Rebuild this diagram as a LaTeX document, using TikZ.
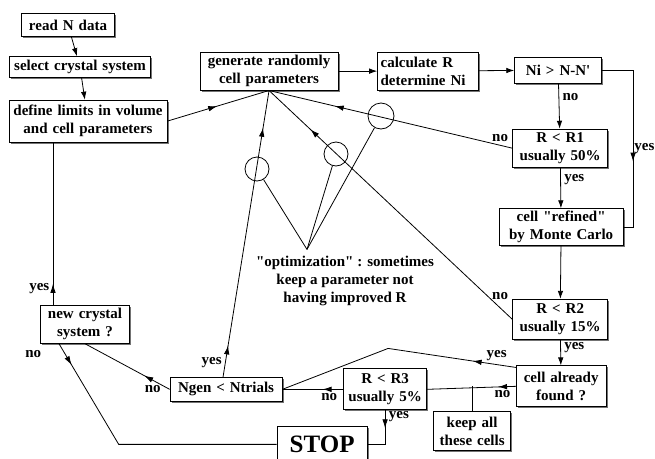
\documentclass[tikz,border=0pt]{standalone}
\usepackage{fontspec}
\setmainfont{Liberation Serif}
\usepackage{tikz}
\usetikzlibrary{positioning, arrows.meta, shadows, decorations.markings}

\tikzset{
	flowbox/.style={draw, rectangle, fill=white, align=center, inner xsep=3pt, inner ysep=2pt, drop shadow={shadow xshift=1.6pt, shadow yshift=-1.6pt, fill=black!55, opacity=1}},
	midarrow/.style={postaction={decorate}, decoration={markings, mark=at position #1 with {\arrow{Latex[length=9pt, width=5.5pt]}}}},
	midarrow/.default=0.5
}

\begin{document}
\begin{tikzpicture}[x=1pt, y=1pt, node distance=1cm, line width=0.8pt, >={Latex[length=8pt, width=5.5pt]}, font=\bfseries\fontsize{15}{18}\selectfont]
	\useasboundingbox (0,0) rectangle (655,-458);

	\node[flowbox, text width=87pt, minimum height=23pt] (read) at (68,-25) {read N data};
	
	\node[flowbox, below of=read, text width=135pt, minimum height=21pt, xshift=12pt, yshift=-13.6pt] (select) {select crystal system};
	
	\node[flowbox, below of=select, text width=152pt, minimum height=42pt, xshift=8pt, yshift=-25.6pt] (define) {define limits in volume\\and cell parameters};
	
	\node[flowbox, right of=define, text width=132pt, minimum height=38pt, xshift=152.6pt, yshift=50pt] (gen) {generate randomly\\cell parameters};
	
	\node[flowbox, right of=gen, text width=95pt, minimum height=38pt, xshift=130.6pt, align=left] (calc) {calculate R\\determine Ni};
	
	\node[flowbox, right of=calc, text width=81pt, minimum height=26pt, xshift=101.6pt, yshift=1pt] (ni) {Ni > N-N\textquotesingle};
	
	\node[flowbox, below of=ni, text width=89pt, minimum height=38pt, xshift=2pt, yshift=-49.6pt] (r1) {R < R1\\usually 50\%};
	
	\node[flowbox, below of=r1, text width=118pt, minimum height=37pt, xshift=1pt, yshift=-50.6pt] (refined) {cell \textquotedbl refined\textquotedbl\\by Monte Carlo};
	
	\node[flowbox, below of=refined, text width=89pt, minimum height=40pt, xshift=-1pt, yshift=-63.6pt] (r2) {R < R2\\usually 15\%};
	
	\node[flowbox, below of=r2, text width=84pt, minimum height=41pt, xshift=1pt, yshift=-38.6pt] (found) {cell already\\found ?};
	
	\node[flowbox, left of=found, text width=77pt, minimum height=41pt, xshift=-147.6pt, yshift=-3pt] (r3) {R < R3\\usually 5\%};
	
	\node[flowbox, below of=found, text width=71pt, minimum height=39pt, xshift=-89pt, yshift=-16.6pt] (keep) {keep all\\these cells};
	
	\node[flowbox, left of=r3, text width=106pt, minimum height=24pt, xshift=-130.6pt] (ngen) {Ngen < Ntrials};
	
	\node[flowbox, below of=r3, text width=84pt, minimum height=36pt, xshift=-63pt, yshift=-26.6pt, font=\bfseries\fontsize{25}{28}\selectfont] (stop) {STOP};
	
	\node[flowbox, left of=ngen, text width=83pt, minimum height=38pt, xshift=-112.6pt, yshift=65pt] (newcs) {new crystal\\system ?};
	
	% note on the optimization step
	\node[align=center] (optim) at (345,-281) {\textquotedbl optimization\textquotedbl\ : sometimes\\keep a parameter not\\having improved R};
	\coordinate (opttip) at ([xshift=-38pt, yshift=3pt]optim.north);
	
	\node[circle, draw, minimum size=24pt, inner sep=0pt] (ring1) at (257,-169) {};
	\node[circle, draw, minimum size=24pt, inner sep=0pt] (ring2) at (336,-154) {};
	\node[circle, draw, minimum size=26pt, inner sep=0pt] (ring3) at (381,-116) {};
	
	\draw (ring1) -- (opttip);
	\draw (ring2) -- (opttip);
	\draw (ring3) -- (opttip);
	
	\coordinate (peak) at ([xshift=3pt, yshift=20pt]r3.north);
	\coordinate (nocorner) at ([xshift=-158pt]stop.west);
	
	\draw[->] (read) -- (select);
	
	\draw[->] (select) -- (define);
	
	\draw[midarrow=.49] (define.east) -- (gen.south);
	
	\draw[->] (gen) -- (calc);
	
	\draw[->] (calc) -- (ni);
	
	\draw[midarrow=.62] (ni.east) -- ++(31pt,0) |- node[pos=.25, right=0pt, inner sep=1pt]{yes} (refined.east);
	
	\draw[->] (ni) -- node[pos=.3, right]{no} (r1);
	
	\draw[midarrow=.73] (r1.west) -- node[pos=.05, above]{no} (gen.south);
	
	\draw[->] (r1) -- node[pos=.3, right]{yes} (refined);
	
	\draw[->] (refined) -- (r2);
	
	\draw[midarrow=.83] (r2.west) -- node[pos=.05, above=4pt]{no} (gen.south);
	
	\draw[->] (r2) -- node[pos=.3, right]{yes} (found);
	
	\draw[midarrow=.18] ([yshift=-2pt]found.north west) -- node[pos=.15, above]{yes} (peak) -- (ngen.east);
	
	\draw[midarrow=.2] (found.west) -- node[pos=.15, below]{no} (r3.east);
	
	\draw (keep.north) -- (keep.north |- found.west);
	
	\draw[midarrow=.34] (r3.west) -- node[pos=.23, below]{no} (ngen.east);
	
	\draw[midarrow=.35] (r3.south) |- node[pos=.1, right]{yes} (stop.east);
	
	\draw[midarrow=.09] ([xshift=-26pt]newcs.south) -- node[pos=.1, left=20pt]{no} (nocorner) -- (stop.west);
	
	\draw[midarrow=.3] (ngen.west) -- node[pos=.2, below=1pt]{no} (newcs.south);
	
	\draw[midarrow=.13] ([xshift=-32pt]newcs.north) -- node[pos=.1, left]{yes} ([xshift=-32pt]newcs.north |- define.south);
	
	\draw[postaction={decorate}, decoration={markings, mark=at position .11 with {\arrow{Latex[length=9pt, width=5.5pt]}}, mark=at position .87 with {\arrow{Latex[length=9pt, width=5.5pt]}}}] ([xshift=-3pt]ngen.north) -- node[pos=.05, left]{yes} (gen.south);
\end{tikzpicture}
\end{document}
